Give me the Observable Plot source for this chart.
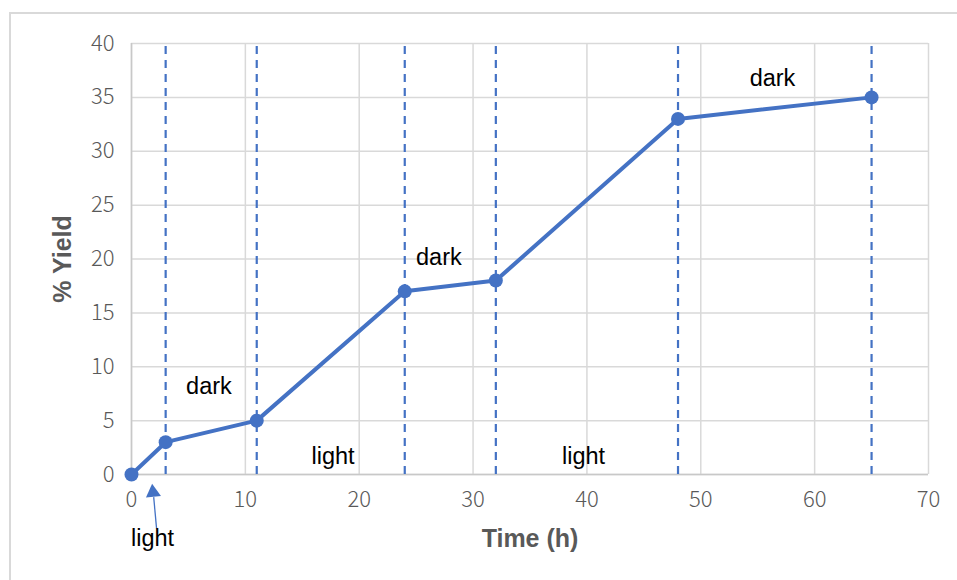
<!DOCTYPE html>
<html>
<head>
<meta charset="utf-8">
<script src="https://cdn.jsdelivr.net/npm/d3@7"></script>
<script src="https://cdn.jsdelivr.net/npm/@observablehq/plot@0.6"></script>
<style>
  body { margin: 0; background: #fff; }
  #wrap { position: relative; width: 957px; height: 580px; overflow: hidden; }
  #frame { position: absolute; left: 9px; top: 12px; width: 980px; height: 600px; border: 2px solid #d9d9d9; box-sizing: border-box; }
  #chart { position: absolute; left: 0; top: 0; }
</style>
</head>
<body>
<div id="wrap"><div id="frame"></div><div id="chart"></div></div>
<script>
// Data
const times = [0, 3, 11, 24, 32, 48, 65];
const yields = [0, 3, 5, 17, 18, 33, 35];
const switchTimes = [3, 11, 24, 32, 48, 65];
const noteLabels = ["dark", "light", "dark", "light", "dark", "light"];
const noteX = [6.8, 17.7, 27.0, 39.7, 56.3, 1.85];
const noteY = [8.2, 1.7, 20.1, 1.7, 36.75, -5.9];
const xTicks = [0, 10, 20, 30, 40, 50, 60, 70];
const yTicks = [0, 5, 10, 15, 20, 25, 30, 35, 40];
const arrowTail = {x: 2.2, y: -5.0};
const arrowBase = {x: 1.95, y: -2.1};
const arrowHead = {x: 1.89, y: -1.67};

const pts = times.map((t, i) => ({t, y: yields[i]}));
const notes = noteLabels.map((l, i) => ({l, x: noteX[i], y: noteY[i]}));

const blue = "#4472C4";
const tickFont = "'Noto Sans CJK SC', 'Open Sans', sans-serif";

const chart = Plot.plot({
  width: 957,
  height: 580,
  marginLeft: 131,
  marginRight: 29,
  marginTop: 43,
  marginBottom: 106,
  style: {fontFamily: "'Liberation Sans', Arial, sans-serif", background: "transparent"},
  x: {domain: [0, 70]},
  y: {domain: [0, 40]},
  marks: [
    Plot.gridX(xTicks, {stroke: "#d9d9d9", strokeOpacity: 1, strokeWidth: 1.5}),
    Plot.gridY(yTicks, {stroke: "#d9d9d9", strokeOpacity: 1, strokeWidth: 1.5}),
    Plot.ruleX([0], {stroke: "#c8c8c8", strokeWidth: 1.5}),
    Plot.ruleY([0], {stroke: "#c8c8c8", strokeWidth: 1.5}),
    Plot.axisX({ticks: xTicks, tickSize: 0, tickPadding: 17, fontSize: 22, fill: "#595959", fontFamily: tickFont, fontWeight: 300, label: null}),
    Plot.axisY({ticks: yTicks, tickSize: 0, tickPadding: 17, fontSize: 22, fill: "#595959", fontFamily: tickFont, fontWeight: 300, label: null}),
    Plot.ruleX(switchTimes, {y1: 0, y2: 40, stroke: blue, strokeWidth: 2.2, strokeDasharray: "8,6"}),
    Plot.line(pts, {x: "t", y: "y", stroke: blue, strokeWidth: 4}),
    Plot.dot(pts, {x: "t", y: "y", r: 7, fill: blue, stroke: "none"}),
    Plot.link([{}], {x1: () => arrowTail.x, y1: () => arrowTail.y, x2: () => arrowBase.x, y2: () => arrowBase.y, stroke: blue, strokeWidth: 1.3, clip: false}),
    Plot.dot([{}], {x: () => arrowHead.x, y: () => arrowHead.y, symbol: "triangle", r: 5.6, fill: blue, stroke: "none", rotate: -6}),
    Plot.text(notes, {x: "x", y: "y", text: "l", fontSize: 23.5, fill: "#000", clip: false}),
    Plot.text(["Time (h)"], {frameAnchor: "bottom", dy: 64, lineAnchor: "middle", textAnchor: "middle", fontSize: 25, fontWeight: "bold", fill: "#595959"}),
    Plot.text(["% Yield"], {frameAnchor: "left", dx: -69, rotate: -90, lineAnchor: "middle", textAnchor: "middle", fontSize: 25, fontWeight: "bold", fill: "#595959"})
  ]
});
document.getElementById("chart").append(chart);
</script>
</body>
</html>
